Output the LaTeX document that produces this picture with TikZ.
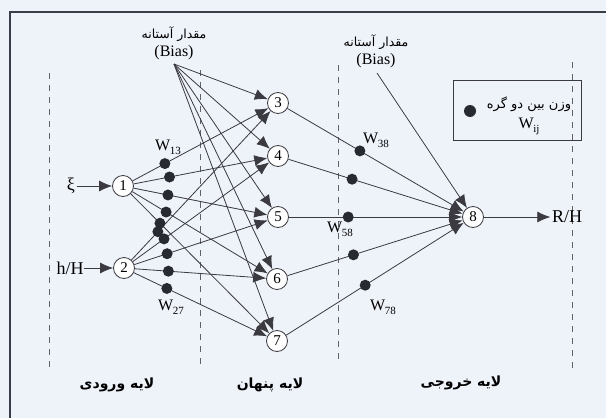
\documentclass[tikz,border=0pt]{standalone}
\usepackage{fontspec}
\setmainfont{Liberation Serif}
\newfontfamily\fa[Script=Arabic]{DejaVu Sans}
\TeXXeTstate=1
\usetikzlibrary{arrows.meta,calc}
\definecolor{bgc}{RGB}{238,242,249}
\definecolor{ink}{RGB}{58,58,64}
\definecolor{dotc}{RGB}{40,42,50}
\definecolor{framec}{RGB}{58,62,72}
\newcommand\Wl[1]{W\kern-0.3pt\raisebox{-0.55ex}{\fontsize{11}{11}\selectfont #1}}
\begin{document}
\begin{tikzpicture}[x=1pt,y=-1pt,
  neuron/.style={circle,draw=ink,fill=white,line width=0.8pt,minimum size=21pt,inner sep=0pt,font=\fontsize{15}{15}\selectfont},
  wdot/.style={circle,fill=dotc,minimum size=11pt,inner sep=0pt},
  conn/.style={draw=ink,line width=0.8pt,-{Latex[length=13pt,width=11pt]}},
  layerline/.style={draw=ink!80,line width=1pt,dash pattern=on 6pt off 6pt},
  wlab/.style={font=\fontsize{16}{16}\selectfont,inner sep=0pt},
  io/.style={font=\fontsize{18}{18}\selectfont,inner sep=1.5pt},
  biastxt/.style={font=\fontsize{16}{16}\selectfont,inner sep=0pt},
  fatext/.style={font=\fa\fontsize{12.5}{16}\selectfont,inner sep=0pt},
  fatextb/.style={font=\fa\fontsize{13}{16}\selectfont,inner sep=0pt},
  fabold/.style={font=\fa\bfseries\fontsize{14}{16}\selectfont,inner sep=0pt},
]
\useasboundingbox (0,0) rectangle (606,418);
\fill[bgc] (0,0) rectangle (606,418);
\draw[framec,line width=2pt] (10,418) -- (10,12) -- (606,12);

% layer separators
\draw[layerline] (49,73) -- (49,368);
\draw[layerline] (200,70) -- (200,367);
\draw[layerline] (338,65) -- (338,362);
\draw[layerline] (572,62) -- (572,370);

% neurons
\node[neuron] (n1) at (123,186) {1};
\node[neuron] (n2) at (124,268) {2};
\node[neuron] (n3) at (278,103) {3};
\node[neuron] (n4) at (278,156) {4};
\node[neuron] (n5) at (278,217) {5};
\node[neuron] (n6) at (277,279) {6};
\node[neuron] (n7) at (277,341) {7};
\node[neuron] (n8) at (473,217) {8};

% inputs / output
\node[io] (xi) at (71,186) {ξ};
\node[io,inner sep=0pt] (hH) at (70,268) {h/H};
\node[io] (RH) at (567,217) {R/H};
\draw[conn] (xi) -- (n1);
\draw[conn] (hH) -- (n2);
\draw[conn] (n8) -- (RH);

% bias labels
\node[fatext] (bt1) at (174,34) {\beginR مقدار آستانه\endR};
\node[biastxt] (bb1) at (174,53) {(Bias)};
\coordinate (b1) at (174,64);
\node[fatext] (bt2) at (376,42) {\beginR مقدار آستانه\endR};
\node[biastxt] (bb2) at (376,61) {(Bias)};
\coordinate (b2) at (377,73);

% connections input -> hidden, bias -> hidden
\foreach \j in {3,4,5,6,7}{
  \draw[conn] (n1) -- (n\j);
  \draw[conn] (n2) -- (n\j);
  \draw[conn] (b1) -- (n\j);
  \draw[conn] (n\j) -- (n8);
}
\draw[conn] (b2) -- (n8);

% weight dots
\foreach \j/\t in {3/0.27,4/0.30,5/0.29,6/0.28,7/0.24}{
  \node[wdot] (d1\j) at ($(n1)!\t!(n\j)$) {};
}
\foreach \j/\t in {3/0.22,4/0.26,5/0.28,6/0.29,7/0.28}{
  \node[wdot] (d2\j) at ($(n2)!\t!(n\j)$) {};
}
\foreach \j/\t in {3/0.42,4/0.38,5/0.36,6/0.39,7/0.45}{
  \node[wdot] (d\j8) at ($(n\j)!\t!(n8)$) {};
}

% weight labels
\node[wlab] (w13) at (168,147) {\Wl{13}};
\node[wlab] (w27) at (171,307) {\Wl{27}};
\node[wlab] (w38) at (376,140) {\Wl{38}};
\node[wlab] (w58) at (340,229) {\Wl{58}};
\node[wlab] (w78) at (383,307) {\Wl{78}};

% legend
\node[draw=ink,line width=0.8pt,minimum width=128pt,minimum height=60pt,inner sep=0pt] (leg) at (517.5,110.5) {};
\node[wdot,minimum size=12pt] (legdot) at (470,111) {};
\node[fatextb] (legt) at (529,104) {\beginR وزن بین دو گره\endR};
\node[wlab] (wij) at (529,126) {\Wl{ij}};

% layer names
\node[fabold] (L1) at (117,385) {\beginR لایه ورودی\endR};
\node[fabold] (L2) at (270,385) {\beginR لایه پنهان\endR};
\node[fabold] (L3) at (461,383) {\beginR لایه خروجی\endR};
\end{tikzpicture}
\end{document}
